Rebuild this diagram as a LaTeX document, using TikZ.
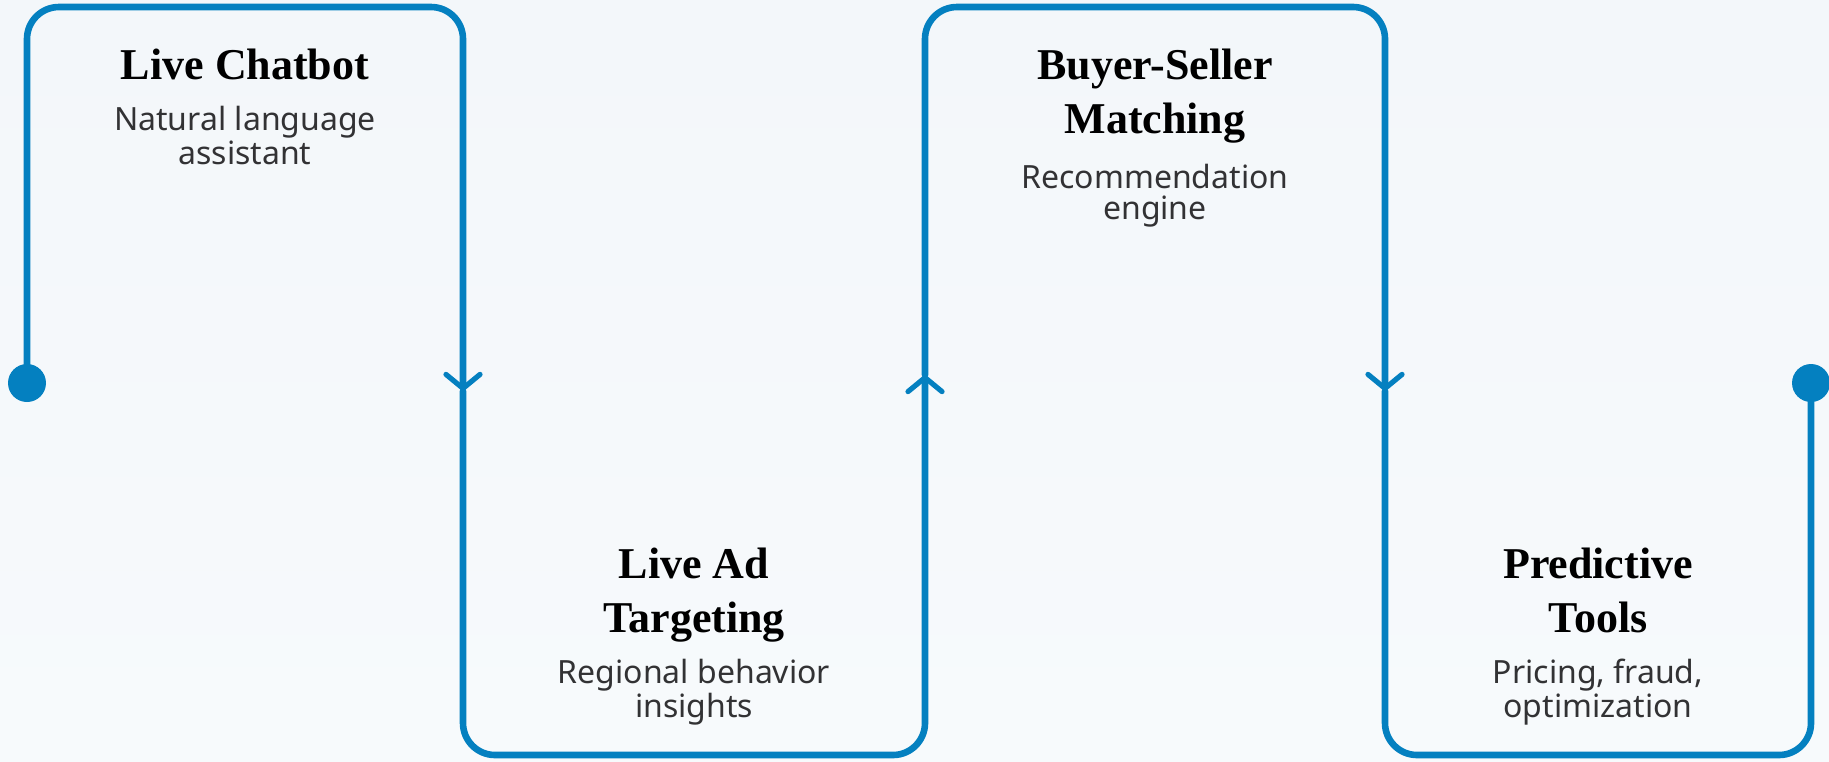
\documentclass[tikz,border=0pt]{standalone}
\usepackage{fontspec}
\setmainfont{Liberation Serif}
\setsansfont{Noto Sans}
\usepackage{tikz}
\usetikzlibrary{arrows.meta, positioning}
\definecolor{flowblue}{RGB}{4,128,192}
\definecolor{subgray}{RGB}{50,50,52}
\definecolor{bgtop}{RGB}{243,247,250}
\definecolor{bgbot}{RGB}{247,250,252}

\tikzset{
  flow/.style={draw=flowblue, line width=3.3pt, rounded corners=16pt, line cap=round},
  flowtip/.style={-{Straight Barb[length=7pt, width=17pt, line width=2.6pt, round]}},
  headtext/.style={font=\bfseries\fontsize{22}{27}\selectfont, align=center, anchor=base, text=black, inner sep=0pt},
  subtext/.style={font=\sffamily\fontsize{16}{15.4}\selectfont, align=center, anchor=base, text=subgray, inner sep=0pt},
  enddot/.style={circle, fill=flowblue, minimum size=19pt, inner sep=0pt}
}

\begin{document}
\begin{tikzpicture}[x=0.5pt, y=-0.5pt]
% background
\shade[top color=bgtop, bottom color=bgbot] (0,0) rectangle (1829,761);
\useasboundingbox (0,0) rectangle (1829,761);

% levels of the snake line
\coordinate (topline) at (0,7);
\coordinate (botline) at (0,755);

% end points and arrow points
\node[enddot] (dotL) at (27,383) {};
\node[enddot] (dotR) at (1811,383) {};
\coordinate (a1) at (463,391);
\coordinate (a2) at (925,375);
\coordinate (a3) at (1385,391);

% snake line
\draw[flow, flowtip] (dotL.center) -- (dotL |- topline) -- (a1 |- topline) -- (a1);
\draw[flow, flowtip] (a1) -- (a1 |- botline) -- (a2 |- botline) -- (a2);
\draw[flow, flowtip] (a2) -- (a2 |- topline) -- (a3 |- topline) -- (a3);
\draw[flow] (a3) -- (a3 |- botline) -- (dotR |- botline) -- (dotR.center);

% step texts (anchored at the last baseline)
\node[headtext] (chat) at (245,79) {Live Chatbot};
\node[subtext] (chatsub) at (245,164) {Natural language\\assistant};

\node[headtext] (adtarget) at (694,632) {Live Ad\\Targeting};
\node[subtext] (adtargetsub) at (694,717) {Regional behavior\\insights};

\node[headtext] (match) at (1155,133) {Buyer-Seller\\Matching};
\node[subtext] (matchsub) at (1155,219) {Recommendation\\engine};

\node[headtext] (predict) at (1598,632) {Predictive\\Tools};
\node[subtext] (predictsub) at (1598,717) {Pricing, fraud,\\optimization};
\end{tikzpicture}
\end{document}
